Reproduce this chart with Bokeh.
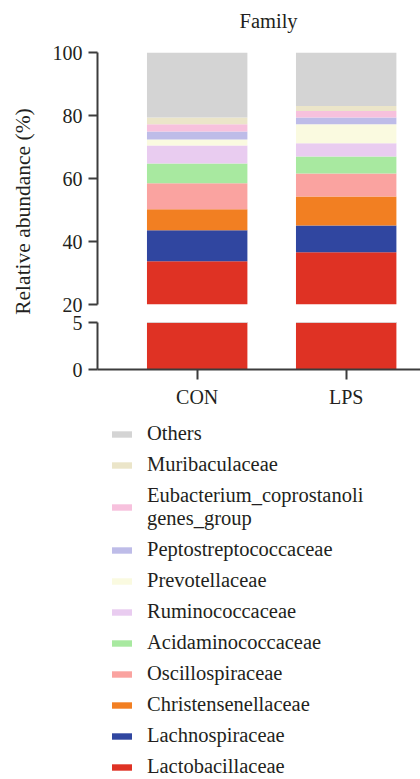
from math import pi
from bokeh.plotting import figure
from bokeh.models import Range1d, FixedTicker, Legend, LegendItem, ColumnDataSource
from bokeh.layouts import column, row
from bokeh.embed import file_html
from bokeh.resources import INLINE

# ---------------- data ----------------
groups = ["CON", "LPS"]
lactobacillaceae = [33.7, 36.6]
lachnospiraceae = [9.9, 8.5]
christensenellaceae = [6.6, 9.2]
oscillospiraceae = [8.3, 7.3]
acidaminococcaceae = [6.3, 5.4]
ruminococcaceae = [5.7, 4.2]
prevotellaceae = [1.9, 6.0]
peptostreptococcaceae = [2.5, 2.2]
eubacterium_group = [2.3, 2.0]
muribaculaceae = [2.2, 1.6]
others = [20.6, 17.0]

keys = ["Lactobacillaceae", "Lachnospiraceae", "Christensenellaceae", "Oscillospiraceae",
        "Acidaminococcaceae", "Ruminococcaceae", "Prevotellaceae", "Peptostreptococcaceae",
        "Eubacterium_coprostanoligenes_group", "Muribaculaceae", "Others"]
legend_labels = ["Lactobacillaceae", "Lachnospiraceae", "Christensenellaceae", "Oscillospiraceae",
                 "Acidaminococcaceae", "Ruminococcaceae", "Prevotellaceae", "Peptostreptococcaceae",
                 "Eubacterium_coprostanoli\ngenes_group", "Muribaculaceae", "Others"]
colors = ["#df3224", "#3046a0", "#f27f22", "#faa3a0", "#a8e9a0", "#e9ccf0",
          "#fafae0", "#bebce8", "#f7c1dd", "#ebe5c9", "#d4d4d4"]
upper_ticks = [20, 40, 60, 80, 100]
lower_ticks = [0, 5]
title_text = "Family"
y_title = "Relative abundance (%)"

series = [lactobacillaceae, lachnospiraceae, christensenellaceae, oscillospiraceae,
          acidaminococcaceae, ruminococcaceae, prevotellaceae, peptostreptococcaceae,
          eubacterium_group, muribaculaceae, others]
data = {"x": list(range(len(groups)))}
for k, s in zip(keys, series):
    data[k] = s
src = ColumnDataSource(data)

FONT = "Liberation Serif"
TXT = "#231f20"
AX = "#3c3c3c"
BAR_W = 0.674
LAB_W = 40
MAIN_W = 380
BL = 57

xr = Range1d(-0.669, 1.4987)


def style_axis(ax):
    ax.axis_line_width = 2
    ax.axis_line_color = AX
    ax.major_tick_line_width = 2
    ax.major_tick_line_color = AX
    ax.major_tick_in = 0
    ax.major_tick_out = 9
    ax.minor_tick_line_color = None
    ax.major_label_text_font = FONT
    ax.major_label_text_font_size = "20px"
    ax.major_label_text_color = TXT


def bare(fig):
    fig.xgrid.visible = False
    fig.ygrid.visible = False
    return fig


# ---------------- y-axis title strip ----------------
lab = bare(figure(width=LAB_W, height=779, x_range=Range1d(0, LAB_W), y_range=Range1d(779, 0),
                  output_backend="svg", toolbar_location=None, title=None,
                  min_border=0, x_axis_location=None, y_axis_location=None,
                  outline_line_color=None))
lab.text(x=[22.5], y=[211], text=[y_title], angle=pi / 2, text_align="center",
         text_baseline="middle", text_font={"value": FONT}, text_font_size="21.5px",
         text_color=TXT)

# ---------------- title strip ----------------
ttl = bare(figure(width=MAIN_W, height=40, x_range=xr, y_range=Range1d(40, 0),
                  output_backend="svg", toolbar_location=None, title=None,
                  min_border_left=BL, min_border_right=0, min_border_top=0, min_border_bottom=0,
                  x_axis_location=None, y_axis_location=None, outline_line_color=None))
ttl.text(x=[0.479], y=[20], text=[title_text], text_align="center",
         text_baseline="alphabetic", text_font={"value": FONT}, text_font_size="20.5px",
         text_color=TXT)

# ---------------- upper segment (20-100) ----------------
up = bare(figure(width=MAIN_W, height=274, x_range=xr, y_range=Range1d(20, 100),
                 output_backend="svg", toolbar_location=None, title=None,
                 min_border_left=BL, min_border_right=0, min_border_top=12, min_border_bottom=10,
                 x_axis_location=None, outline_line_color=None))
up.vbar_stack(keys, x="x", width=BAR_W, source=src, fill_color=colors, line_color=None)
style_axis(up.yaxis[0])
up.yaxis.ticker = FixedTicker(ticks=upper_ticks)
up.yaxis.bounds = (20, 100)
up.yaxis.major_label_standoff = 6

# ---------------- lower segment (0-5) ----------------
lo = bare(figure(width=MAIN_W, height=96, x_range=xr, y_range=Range1d(0, 5),
                 output_backend="svg", toolbar_location=None, title=None,
                 min_border_left=BL, min_border_right=0, min_border_top=8, min_border_bottom=40,
                 outline_line_color=None))
lo.vbar_stack(keys, x="x", width=BAR_W, source=src, fill_color=colors, line_color=None)
style_axis(lo.yaxis[0])
lo.yaxis.ticker = FixedTicker(ticks=lower_ticks)
lo.yaxis.bounds = (0, 5)
lo.yaxis.major_label_standoff = 6
style_axis(lo.xaxis[0])
lo.xaxis.ticker = FixedTicker(ticks=list(range(len(groups))))
lo.xaxis.major_label_overrides = {i: g for i, g in enumerate(groups)}
lo.xaxis.major_tick_out = 10
lo.xaxis.major_label_standoff = 6

# ---------------- legend strip ----------------
leg = bare(figure(width=MAIN_W, height=369, x_range=Range1d(100, 101), y_range=Range1d(1000, 1001),
                  output_backend="svg", toolbar_location=None, title=None,
                  min_border_left=BL, min_border_right=0, min_border_top=0, min_border_bottom=0,
                  x_axis_location=None, y_axis_location=None, outline_line_color=None))
rs = leg.vbar_stack(keys, x="x", width=BAR_W, source=src, fill_color=colors, line_color=None)
items = [LegendItem(label=lab_, renderers=[r]) for lab_, r in zip(legend_labels, rs)][::-1]
legend = Legend(items=items, location="top_left", orientation="vertical",
                glyph_width=25, glyph_height=8, label_standoff=13,
                label_text_font=FONT, label_text_font_size="20.5px", label_text_color=TXT,
                label_height=23, spacing=8, padding=0, margin=12,
                border_line_color=None, background_fill_alpha=0)
leg.add_layout(legend, "center")

layout = row(lab, column(ttl, up, lo, leg, spacing=0), spacing=0)
open("out.html", "w").write(file_html(layout, INLINE))
